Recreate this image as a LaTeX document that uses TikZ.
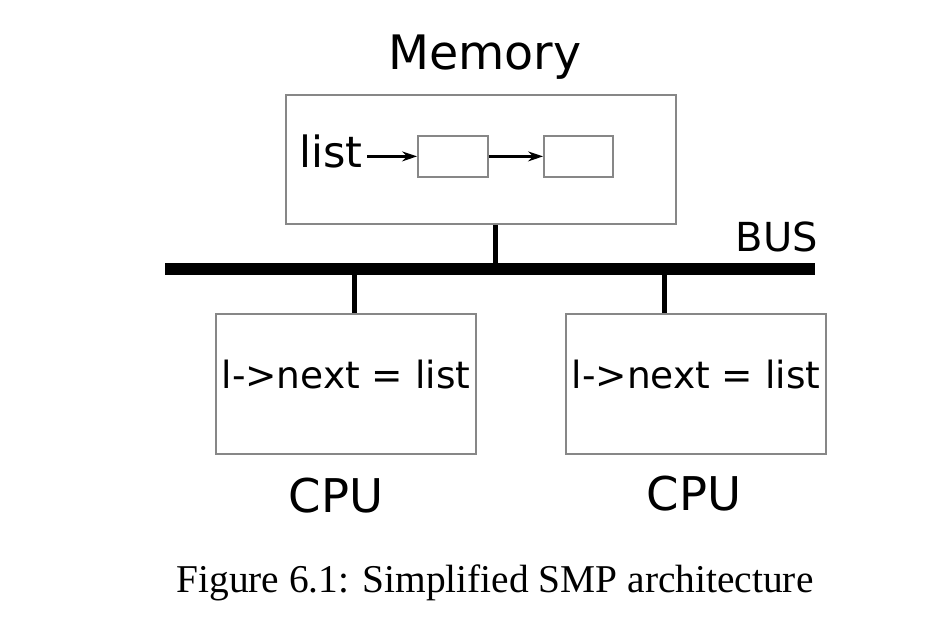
\documentclass[tikz,border=0pt]{standalone}
\usepackage{fontspec}
\setmainfont{DejaVu Sans}
\newfontfamily\capfont{Liberation Serif}
\usetikzlibrary{arrows.meta}
\begin{document}
\begin{tikzpicture}[x=1pt,y=-1pt,
  box/.style={draw=black!47,line width=1.8pt,inner sep=0pt,anchor=north west},
  link/.style={line width=2.2pt,-{Stealth[length=15pt,width=10pt,inset=5pt]}},
  wire/.style={line width=5pt},
  lbl/.style={inner sep=0pt,anchor=base}]
\useasboundingbox (0,0) rectangle (929,638);
% memory
\node[box,minimum width=390pt,minimum height=129pt] (mem) at (285,94) {};
\node[lbl,font=\fontsize{47.5}{50}\selectfont] (memt) at (485,69) {Memory};
\node[lbl,font=\fontsize{43}{46}\selectfont,anchor=base west] (list) at (299,167) {list};
\node[box,minimum width=70pt,minimum height=41pt] (c1) at (417,135) {};
\node[box,minimum width=69pt,minimum height=41pt] (c2) at (543,135) {};
\coordinate (la) at (367,155);
\draw[link] (c1.west -| la) -- (c1.west);
\draw[link] (c1.east) -- (c2.west);
% bus
\coordinate (busl) at (165,269);
\coordinate (busr) at (815,269);
\draw[line width=12pt] (busl) -- (busr);
\node[lbl,font=\fontsize{40}{44}\selectfont,anchor=base east] (bust) at (818,251) {BUS};
\coordinate (mb) at (495,269);
\draw[wire] (mem.south -| mb) -- (mb);
% cpus
\node[box,minimum width=260pt,minimum height=140pt] (cpu1) at (215,313) {};
\node[box,minimum width=260pt,minimum height=140pt] (cpu2) at (565,313) {};
\coordinate (b1) at (354,269);
\coordinate (b2) at (664,269);
\draw[wire] (b1) -- (cpu1.north -| b1);
\draw[wire] (b2) -- (cpu2.north -| b2);
\node[lbl,font=\fontsize{37.5}{40}\selectfont] (t1) at (346,388) {l->next = list};
\node[lbl,font=\fontsize{37.5}{40}\selectfont] (t2) at (696,388) {l->next = list};
\node[lbl,font=\fontsize{46.5}{50}\selectfont] (cp1) at (336,512) {CPU};
\node[lbl,font=\fontsize{46.5}{50}\selectfont] (cp2) at (694,510) {CPU};
% caption
\node[lbl,font=\capfont\fontsize{39.4}{42}\selectfont] (cap) at (495,592) {Figure 6.1: Simplified SMP architecture};
\end{tikzpicture}
\end{document}
